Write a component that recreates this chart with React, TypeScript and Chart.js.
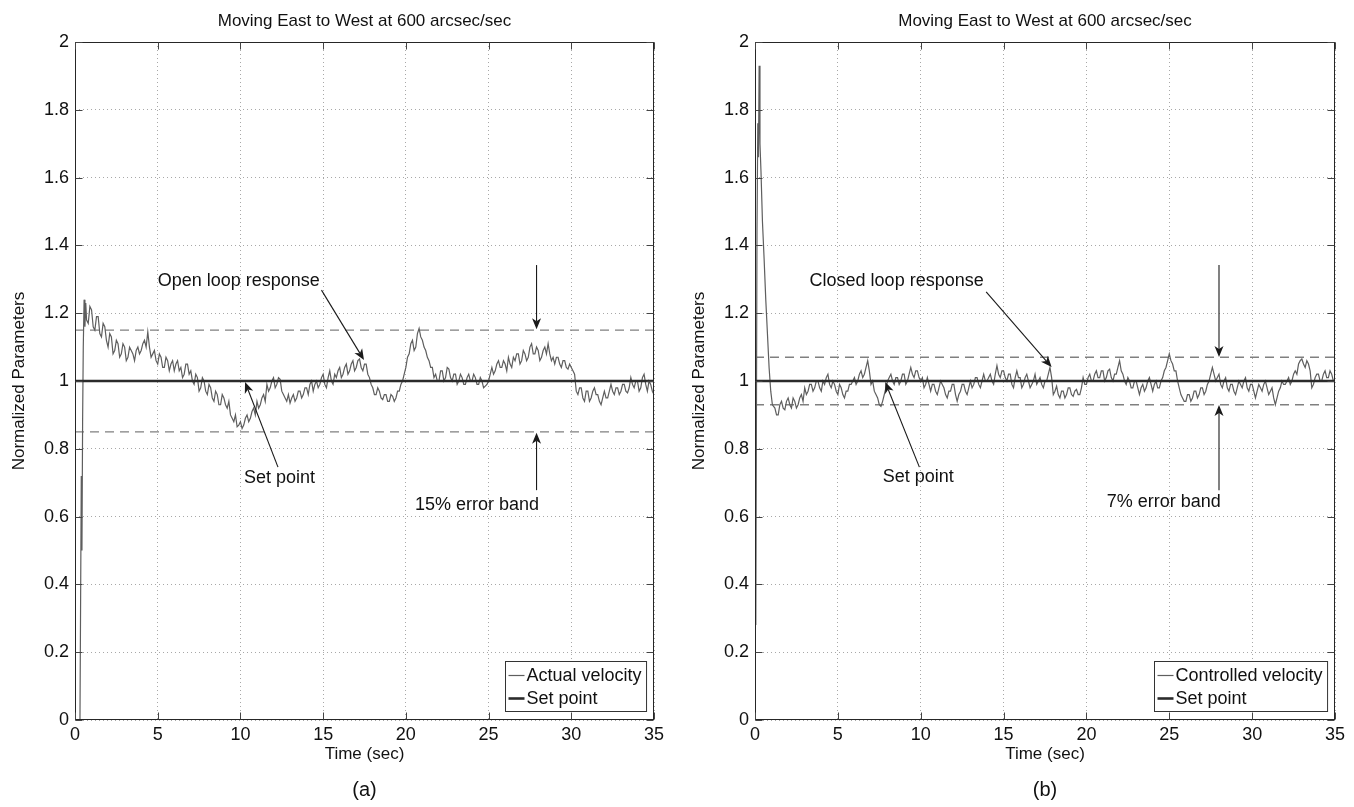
import React, { useEffect, useRef } from "react";
import { Chart, registerables } from "chart.js";

Chart.register(...registerables);

const FONT = "'Liberation Sans', Arial, Helvetica, sans-serif";

const titleText = "Moving East to West at 600 arcsec/sec";
const xTickValues = [0, 5, 10, 15, 20, 25, 30, 35];
const yTickValues = [0, 0.2, 0.4, 0.6, 0.8, 1, 1.2, 1.4, 1.6, 1.8, 2];
const xAxisLabel = "Time (sec)";
const yAxisLabel = "Normalized Parameters";
const sampleStep = 0.1;
const setPoint = 1;

// (a) open loop
const leftTransientTimes = [0, 0.3, 0.38, 0.42, 0.46, 0.5, 0.55, 0.6, 0.65, 0.7];
const leftTransientValues = [0, 0, 0.72, 0.5, 0.88, 1.1, 1.24, 1.16, 1.23, 1.18];
const leftSampleStart = 0.8;
const leftValues = [
  1.17, 1.22,
  1.21, 1.16, 1.15, 1.19, 1.19, 1.14, 1.13, 1.17, 1.16, 1.12,
  1.10, 1.14, 1.13, 1.08, 1.09, 1.12, 1.11, 1.07, 1.08, 1.11,
  1.10, 1.06, 1.07, 1.10, 1.09, 1.08, 1.06, 1.09, 1.10, 1.08,
  1.09, 1.11, 1.12, 1.10, 1.145, 1.10, 1.07, 1.08, 1.09, 1.06,
  1.05, 1.08, 1.07, 1.04, 1.04, 1.07, 1.06, 1.03, 1.05, 1.06,
  1.03, 1.05, 1.06, 1.03, 1.04, 1.01, 1.02, 1.05, 1.05, 1.02,
  1.03, 1.00, 0.99, 1.02, 1.01, 0.97, 0.98, 1.01, 1.00, 0.97,
  0.96, 0.99, 0.98, 0.95, 0.94, 0.97, 0.96, 0.93, 0.93, 0.96,
  0.95, 0.93, 0.92, 0.94, 0.90, 0.89, 0.88, 0.90, 0.865, 0.87,
  0.88, 0.86, 0.87, 0.89, 0.90, 0.88, 0.89, 0.91, 0.92, 0.90,
  0.94, 0.92, 0.93, 0.95, 0.96, 0.94, 0.99, 0.97, 0.98, 1.00,
  1.01, 0.98, 0.99, 1.01, 1.005, 0.97, 0.96, 0.95, 0.94, 0.96,
  0.935, 0.95, 0.96, 0.94, 0.95, 0.97, 0.97, 0.95, 0.96, 0.98,
  0.98, 0.96, 0.99, 1.00, 0.97, 0.99, 1.00, 0.98, 0.99, 1.01,
  1.02, 0.99, 0.98, 1.01, 1.03, 1.00, 0.99, 1.02, 1.01, 1.03,
  1.04, 1.01, 1.02, 1.04, 1.05, 1.02, 1.03, 1.05, 1.06, 1.03,
  1.04, 1.06, 1.065, 1.04, 1.03, 1.05, 1.05, 1.02, 1.01, 0.99,
  0.98, 0.96, 0.96, 0.98, 0.97, 0.95, 0.945, 0.96, 0.96, 0.94,
  0.94, 0.96, 0.955, 0.94, 0.95, 0.97, 0.97, 0.99, 1.00, 1.02,
  1.04, 1.07, 1.08, 1.11, 1.12, 1.09, 1.10, 1.14, 1.155, 1.13,
  1.12, 1.10, 1.09, 1.07, 1.06, 1.04, 1.04, 1.01, 1.02, 1.00,
  1.00, 1.03, 1.03, 1.00, 1.01, 1.04, 1.035, 1.01, 1.00, 1.02,
  1.02, 0.99, 1.00, 1.02, 1.01, 0.99, 0.99, 1.01, 1.02, 1.00,
  1.00, 1.02, 1.01, 0.99, 0.99, 1.01, 1.00, 0.98, 0.985, 0.99,
  1.00, 1.02, 1.04, 1.02, 1.03, 1.05, 1.06, 1.04, 1.04, 1.06,
  1.05, 1.03, 1.07, 1.05, 1.04, 1.07, 1.06, 1.08, 1.08, 1.05,
  1.06, 1.09, 1.08, 1.06, 1.07, 1.10, 1.11, 1.08, 1.08, 1.10,
  1.09, 1.06, 1.07, 1.09, 1.10, 1.08, 1.11, 1.08, 1.06, 1.07,
  1.05, 1.07, 1.07, 1.05, 1.04, 1.06, 1.06, 1.04, 1.035, 1.05,
  1.04, 1.03, 1.02, 0.97, 0.96, 0.98, 0.98, 0.95, 0.94, 0.97,
  0.97, 0.94, 0.95, 0.97, 0.98, 0.96, 0.96, 0.94, 0.93, 0.95,
  0.97, 0.95, 0.95, 0.97, 0.99, 0.97, 0.96, 0.98, 0.98, 0.96,
  0.97, 0.99, 0.99, 0.97, 0.965, 0.98, 1.01, 0.99, 0.98, 1.00,
  1.00, 0.97, 0.98, 1.01, 1.02, 0.99, 0.97, 1.00, 0.99, 0.97,
  0.96,
];
const leftBand = [0.85, 1.15];

// (b) closed loop
const rightTransientTimes = [0.05, 0.12, 0.17, 0.21, 0.25, 0.3, 0.36, 0.45, 0.55, 0.65, 0.75, 0.85, 0.95, 1.05];
const rightTransientValues = [0.28, 1.45, 1.76, 1.66, 1.93, 1.7, 1.62, 1.47, 1.36, 1.24, 1.14, 1.04, 0.97, 0.93];
const rightSampleStart = 1.2;
const rightValues = [
  0.92, 0.90, 0.90, 0.93, 0.94, 0.92, 0.915, 0.94,
  0.95, 0.93, 0.92, 0.95, 0.94, 0.92, 0.93, 0.95, 0.96, 0.94,
  0.98, 0.96, 0.97, 0.99, 0.99, 0.97, 0.98, 1.00, 1.00, 0.98,
  0.97, 1.00, 0.99, 1.01, 1.02, 0.99, 0.98, 1.00, 0.99, 0.97,
  0.96, 0.99, 0.98, 0.96, 0.95, 0.97, 0.97, 0.99, 0.99, 1.00,
  1.01, 0.99, 1.00, 1.02, 1.03, 1.01, 1.02, 1.04, 1.06, 1.03,
  0.99, 1.00, 0.97, 0.96, 0.95, 0.93, 0.925, 0.94, 0.96, 0.98,
  1.00, 1.01, 1.02, 1.00, 0.99, 1.01, 1.01, 0.99, 1.00, 1.02,
  1.02, 0.99, 1.00, 1.02, 1.04, 1.02, 1.01, 1.03, 1.03, 1.01,
  1.00, 1.01, 0.98, 0.99, 1.01, 0.99, 0.97, 0.99, 0.99, 0.97,
  0.96, 0.98, 1.00, 0.99, 0.98, 0.96, 0.95, 0.97, 0.97, 0.99,
  0.99, 0.96, 0.94, 0.96, 0.97, 0.99, 0.99, 0.97, 0.96, 0.98,
  1.00, 0.98, 0.99, 1.01, 1.01, 0.99, 0.98, 1.00, 1.02, 1.00,
  1.00, 1.01, 1.02, 1.00, 0.99, 1.02, 1.045, 1.02, 1.01, 1.03,
  1.03, 1.01, 1.00, 1.02, 1.02, 0.99, 0.98, 1.01, 1.03, 1.01,
  1.01, 0.98, 0.99, 1.01, 1.02, 1.00, 0.98, 0.99, 1.00, 1.02,
  0.99, 1.00, 1.01, 0.99, 0.98, 1.00, 1.00, 1.02, 1.04, 1.01,
  0.96, 0.97, 0.985, 0.96, 0.95, 0.97, 0.97, 0.95, 0.96, 0.98,
  0.98, 0.96, 0.955, 0.97, 0.975, 0.96, 0.96, 0.98, 1.01, 0.99,
  0.99, 1.01, 1.02, 1.00, 1.00, 1.02, 1.03, 1.01, 1.01, 1.03,
  1.03, 1.00, 1.01, 1.03, 1.035, 1.01, 1.00, 1.02, 1.02, 1.04,
  1.06, 1.03, 1.02, 1.00, 0.99, 1.01, 1.00, 0.98, 0.98, 1.00,
  1.00, 0.98, 0.96, 0.98, 0.99, 0.97, 0.98, 1.00, 1.01, 0.99,
  0.97, 0.99, 1.00, 0.98, 0.98, 1.00, 1.01, 1.03, 1.04, 1.06,
  1.08, 1.06, 1.05, 1.03, 1.03, 1.00, 0.98, 0.96, 0.95, 0.94,
  0.94, 0.96, 0.96, 0.94, 0.95, 0.97, 0.97, 0.95, 0.96, 0.98,
  0.98, 0.96, 0.97, 0.99, 1.00, 1.02, 1.04, 1.02, 1.00, 1.01,
  1.02, 0.99, 0.98, 1.00, 1.01, 0.98, 0.97, 0.99, 0.99, 0.97,
  0.96, 0.98, 1.00, 0.99, 0.98, 1.00, 1.01, 0.98, 0.97, 0.99,
  0.99, 0.97, 0.95, 0.97, 0.99, 0.98, 0.97, 0.99, 1.00, 0.98,
  0.96, 0.97, 0.98, 0.95, 0.93, 0.95, 0.97, 0.98, 1.00, 0.99,
  0.99, 1.00, 1.01, 0.99, 1.00, 1.02, 1.03, 1.02, 1.05, 1.06,
  1.065, 1.05, 1.04, 1.06, 1.05, 1.03, 0.98, 0.99, 1.01, 1.02,
  1.02, 1.00, 1.00, 1.02, 1.03, 1.01, 1.01, 1.03, 1.02, 1.00,
  1.00,
];
const rightBand = [0.93, 1.07];

type Note = { text: string; t: number; v: number; align: CanvasTextAlign };
type Arrow = [number, number, number, number];

type PanelCfg = {
  seriesLabel: string;
  transientTimes: number[];
  transientValues: number[];
  sampleStart: number;
  values: number[];
  band: number[];
  caption: string;
  notes: Note[];
  arrows: Arrow[];
  padRight: number;
  canvasWidth: number;
  left: number;
};

const leftPanel: PanelCfg = {
  seriesLabel: "Actual velocity",
  transientTimes: leftTransientTimes,
  transientValues: leftTransientValues,
  sampleStart: leftSampleStart,
  values: leftValues,
  band: leftBand,
  caption: "(a)",
  notes: [
    { text: "Open loop response", t: 14.8, v: 1.295, align: "right" },
    { text: "Set point", t: 12.36, v: 0.714, align: "center" },
    { text: "15% error band", t: 24.3, v: 0.634, align: "center" },
  ],
  arrows: [
    [14.9, 1.268, 17.47, 1.062],
    [12.27, 0.746, 10.28, 0.997],
    [27.9, 1.342, 27.9, 1.153],
    [27.9, 0.678, 27.9, 0.847],
  ],
  padRight: 26,
  canvasWidth: 680,
  left: 0,
};

const rightPanel: PanelCfg = {
  seriesLabel: "Controlled velocity",
  transientTimes: rightTransientTimes,
  transientValues: rightTransientValues,
  sampleStart: rightSampleStart,
  values: rightValues,
  band: rightBand,
  caption: "(b)",
  notes: [
    { text: "Closed loop response", t: 13.8, v: 1.295, align: "right" },
    { text: "Set point", t: 9.85, v: 0.717, align: "center" },
    { text: "7% error band", t: 24.67, v: 0.643, align: "center" },
  ],
  arrows: [
    [13.95, 1.263, 17.9, 1.041],
    [9.92, 0.746, 7.86, 0.997],
    [28, 1.342, 28, 1.071],
    [28, 0.678, 28, 0.929],
  ],
  padRight: 19,
  canvasWidth: 674,
  left: 680,
};

function drawArrow(ctx: CanvasRenderingContext2D, x1: number, y1: number, x2: number, y2: number) {
  const ang = Math.atan2(y2 - y1, x2 - x1);
  const len = 11;
  const half = 4.5;
  const bx = x2 - len * Math.cos(ang);
  const by = y2 - len * Math.sin(ang);
  ctx.beginPath();
  ctx.moveTo(x1, y1);
  ctx.lineTo(bx + 3 * Math.cos(ang), by + 3 * Math.sin(ang));
  ctx.stroke();
  const nx = -Math.sin(ang);
  const ny = Math.cos(ang);
  ctx.beginPath();
  ctx.moveTo(x2, y2);
  ctx.lineTo(bx + nx * half, by + ny * half);
  ctx.lineTo(bx + 3 * Math.cos(ang), by + 3 * Math.sin(ang));
  ctx.lineTo(bx - nx * half, by - ny * half);
  ctx.closePath();
  ctx.fill();
}

function makeDecor(cfg: PanelCfg) {
  return {
    id: "decor",
    afterDraw(chart: any) {
      const { ctx, chartArea: a, scales } = chart;
      const xs = scales.x;
      const ys = scales.y;
      ctx.save();
      ctx.strokeStyle = "#262626";
      ctx.lineWidth = 1;
      const L = Math.round(a.left) + 0.5;
      const R = Math.round(a.right) - 0.5;
      const T = Math.round(a.top) + 0.5;
      const B = Math.round(a.bottom) - 0.5;
      ctx.strokeRect(L, T, R - L, B - T);
      ctx.strokeStyle = "#444";
      ctx.beginPath();
      for (const t of xTickValues) {
        const px = Math.round(xs.getPixelForValue(t)) + 0.5;
        ctx.moveTo(px, B);
        ctx.lineTo(px, B - 7);
        ctx.moveTo(px, T);
        ctx.lineTo(px, T + 7);
      }
      for (const v of yTickValues) {
        const py = Math.round(ys.getPixelForValue(v)) + 0.5;
        ctx.moveTo(L, py);
        ctx.lineTo(L + 7, py);
        ctx.moveTo(R, py);
        ctx.lineTo(R - 7, py);
      }
      ctx.stroke();

      ctx.fillStyle = "#111";
      ctx.textBaseline = "middle";
      ctx.textAlign = "center";
      const cx = (a.left + a.right) / 2;
      ctx.font = `17px ${FONT}`;
      ctx.fillText(titleText, cx, 21);
      ctx.font = `20px ${FONT}`;
      ctx.fillText(cfg.caption, cx, 790);

      ctx.font = `18px ${FONT}`;
      for (const n of cfg.notes) {
        ctx.textAlign = n.align;
        ctx.fillText(n.text, xs.getPixelForValue(n.t), ys.getPixelForValue(n.v));
      }
      ctx.strokeStyle = "#1a1a1a";
      ctx.fillStyle = "#1a1a1a";
      ctx.lineWidth = 1.1;
      for (const ar of cfg.arrows) {
        drawArrow(
          ctx,
          xs.getPixelForValue(ar[0]),
          ys.getPixelForValue(ar[1]),
          xs.getPixelForValue(ar[2]),
          ys.getPixelForValue(ar[3])
        );
      }

      const items = chart.data.datasets.filter((d: any) => d.label);
      ctx.font = `18px ${FONT}`;
      let tw = 0;
      for (const d of items) tw = Math.max(tw, ctx.measureText(d.label).width);
      const lineLen = 16;
      const boxW = 3 + lineLen + 2 + tw + 5;
      const rowH = 23;
      const boxH = 50;
      const bx = Math.round(a.right - 8 - boxW) + 0.5;
      const by = Math.round(a.bottom - 9 - boxH) + 0.5;
      ctx.fillStyle = "#fff";
      ctx.fillRect(bx, by, boxW, boxH);
      ctx.strokeStyle = "#333";
      ctx.lineWidth = 1;
      ctx.strokeRect(bx, by, boxW, boxH);
      items.forEach((d: any, i: number) => {
        const yy = by + 14 + i * rowH;
        ctx.strokeStyle = d.borderColor;
        ctx.lineWidth = d.borderWidth;
        ctx.beginPath();
        ctx.moveTo(bx + 3, yy);
        ctx.lineTo(bx + 3 + lineLen, yy);
        ctx.stroke();
        ctx.fillStyle = "#111";
        ctx.textAlign = "left";
        ctx.fillText(d.label, bx + 3 + lineLen + 2, yy + 1);
      });
      ctx.restore();
    },
  };
}

function buildSeries(cfg: PanelCfg) {
  const pts = cfg.transientTimes.map((t, i) => ({ x: t, y: cfg.transientValues[i] }));
  cfg.values.forEach((v, i) => pts.push({ x: +(cfg.sampleStart + i * sampleStep).toFixed(2), y: v }));
  return pts;
}

function Panel({ cfg }: { cfg: PanelCfg }) {
  const ref = useRef<HTMLCanvasElement | null>(null);
  useEffect(() => {
    if (!ref.current) return;
    const xMin = xTickValues[0];
    const xMax = xTickValues[xTickValues.length - 1];
    const chart = new Chart(ref.current, {
      type: "line",
      data: {
        datasets: [
          {
            label: cfg.seriesLabel,
            data: buildSeries(cfg),
            borderColor: "#5e5e5e",
            borderWidth: 1.2,
            pointRadius: 0,
            tension: 0,
            order: 1,
          } as any,
          {
            label: "Set point",
            data: [
              { x: xMin, y: setPoint },
              { x: xMax, y: setPoint },
            ],
            borderColor: "#2b2b2b",
            borderWidth: 2.6,
            pointRadius: 0,
            order: 0,
          },
          {
            label: "",
            data: [
              { x: xMin, y: cfg.band[1] },
              { x: xMax, y: cfg.band[1] },
            ],
            borderColor: "#808080",
            borderWidth: 1.3,
            borderDash: [9, 6],
            pointRadius: 0,
            order: 2,
          },
          {
            label: "",
            data: [
              { x: xMin, y: cfg.band[0] },
              { x: xMax, y: cfg.band[0] },
            ],
            borderColor: "#808080",
            borderWidth: 1.3,
            borderDash: [9, 6],
            pointRadius: 0,
            order: 2,
          },
        ],
      },
      options: {
        responsive: false,
        maintainAspectRatio: false,
        animation: false,
        layout: { padding: { left: 0, top: 42, right: cfg.padRight, bottom: 0 } },
        plugins: {
          legend: { display: false },
          title: { display: false },
          tooltip: { enabled: false },
        },
        scales: {
          x: {
            type: "linear",
            min: xMin,
            max: xMax,
            afterBuildTicks: (scale: any) => {
              scale.ticks = xTickValues.map((v) => ({ value: v }));
            },
            ticks: {
              color: "#111",
              font: { family: FONT, size: 18 },
              padding: 4,
              maxRotation: 0,
              autoSkip: false,
            },
            grid: { color: "#a8a8a8", lineWidth: 1, drawTicks: false },
            border: { display: false, dash: [1, 3] },
            title: {
              display: true,
              text: xAxisLabel,
              color: "#111",
              font: { family: FONT, size: 17 },
              padding: { top: 0, bottom: 42 },
            },
            afterFit: (scale: any) => {
              scale.height = 87;
            },
          },
          y: {
            type: "linear",
            min: 0,
            max: 2,
            afterBuildTicks: (scale: any) => {
              scale.ticks = yTickValues.map((v) => ({ value: v }));
            },
            ticks: {
              color: "#111",
              font: { family: FONT, size: 18 },
              padding: 6,
              autoSkip: false,
              callback: (v: any) => String(Number(Number(v).toFixed(1))),
            },
            grid: { color: "#a8a8a8", lineWidth: 1, drawTicks: false },
            border: { display: false, dash: [1, 3] },
            title: {
              display: true,
              text: yAxisLabel,
              color: "#111",
              font: { family: FONT, size: 17 },
              padding: { top: 9, bottom: 0 },
            },
            afterFit: (scale: any) => {
              scale.width = 75;
            },
          },
        },
      } as any,
      plugins: [makeDecor(cfg)],
    });
    return () => chart.destroy();
  }, [cfg]);
  return (
    <canvas
      ref={ref}
      width={cfg.canvasWidth}
      height={807}
      style={{ position: "absolute", left: cfg.left, top: 0, width: cfg.canvasWidth, height: 807, display: "block" }}
    />
  );
}

export default function App() {
  return (
    <div style={{ position: "absolute", left: 0, top: 0, width: 1354, height: 807, background: "#fff", overflow: "hidden" }}>
      <Panel cfg={leftPanel} />
      <Panel cfg={rightPanel} />
    </div>
  );
}
